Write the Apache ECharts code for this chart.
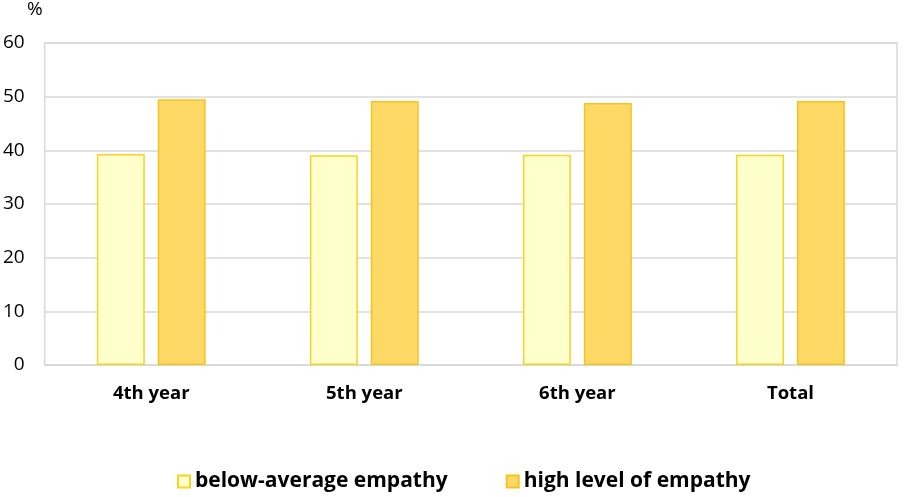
<!DOCTYPE html>
<html><head><meta charset="utf-8">
<script src="https://cdn.jsdelivr.net/npm/echarts@6/dist/echarts.min.js"></script>
<style>html,body{margin:0;padding:0;background:#fff}#c{width:904px;height:497px}</style>
</head><body><div id="c"></div>
<script>
const categories = ['4th year', '5th year', '6th year', 'Total'];
const belowAverage = [39.3, 39.1, 39.2, 39.2];
const highLevel = [49.5, 49.2, 48.8, 49.2];
const seriesNames = ['below-average empathy', 'high level of empathy'];
const yTicks = { min: 0, max: 60, interval: 10 };

const FONT = '"Open Sans", "Noto Sans", sans-serif';
const chart = echarts.init(document.getElementById('c'), null, { renderer: 'canvas' });
chart.setOption({
  animation: false,
  backgroundColor: '#fff',
  graphic: [{ type: 'text', left: 27, top: 0, style: { text: '%', fontSize: 19, fontFamily: FONT, fill: '#000' } }],
  grid: { left: 44, right: 7, top: 43, bottom: 132, show: true, borderColor: '#D9D9D9', borderWidth: 1.5, containLabel: false },
  legend: {
    bottom: 0, left: 172, itemWidth: 12, itemHeight: 12, itemGap: 58, icon: 'rect',
    textStyle: { fontFamily: FONT, fontSize: 21, fontWeight: 'bold', color: '#000' },
    data: seriesNames
  },
  xAxis: {
    type: 'category', data: categories,
    axisLine: { show: true, lineStyle: { color: '#D9D9D9', width: 2 } },
    axisTick: { show: false },
    axisLabel: { fontFamily: FONT, fontSize: 18.5, fontWeight: 'bold', color: '#000', margin: 19 }
  },
  yAxis: {
    type: 'value', min: yTicks.min, max: yTicks.max, interval: yTicks.interval,
    axisLine: { show: false }, axisTick: { show: false },
    splitLine: { lineStyle: { color: '#D9D9D9', width: 1.5 } },
    axisLabel: { fontFamily: FONT, fontSize: 19, color: '#000', margin: 20 }
  },
  series: [
    { name: seriesNames[0], type: 'bar', data: belowAverage, barWidth: '22.5%', barGap: '27%',
      itemStyle: { color: '#FFFFCC', borderColor: '#F5D327', borderWidth: 1.5 } },
    { name: seriesNames[1], type: 'bar', data: highLevel, barWidth: '22.5%',
      itemStyle: { color: '#FFD966', borderColor: '#F5C320', borderWidth: 1.5 } }
  ]
});
</script></body></html>
